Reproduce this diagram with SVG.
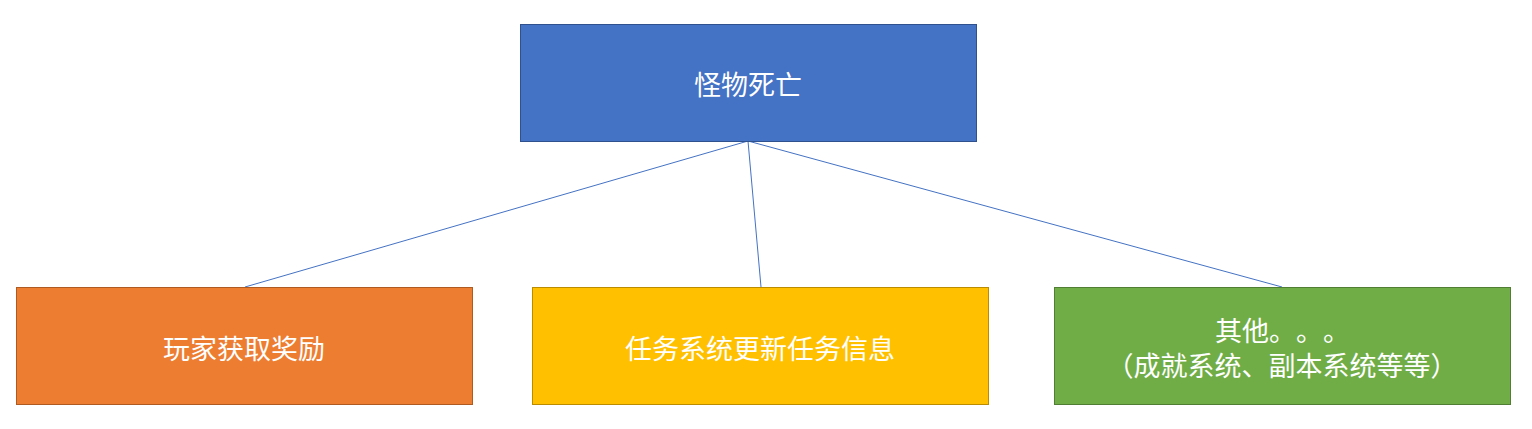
<svg xmlns="http://www.w3.org/2000/svg" width="1532" height="429" viewBox="0 0 1532 429">
<style>
.t{font-family:"Noto Sans CJK SC","Noto Sans",sans-serif;font-size:27px;fill:#fff;text-anchor:middle;dominant-baseline:central;text-spacing-trim:space-all}
.s{text-anchor:start}
.c{stroke:#4472C4;stroke-width:1;fill:none}
</style>
<rect width="1532" height="429" fill="#fff"/>
<g id="connectors">
<line class="c" x1="748" y1="141" x2="245" y2="287"/>
<line class="c" x1="748" y1="141" x2="761" y2="287"/>
<line class="c" x1="748" y1="141" x2="1282" y2="287"/>
</g>
<g id="n0">
<rect x="520.5" y="24.5" width="456" height="117" fill="#4472C4" stroke="#2F528F"/>
<text class="t" x="748" y="83">怪物死亡</text>
</g>
<g id="n1">
<rect x="16.5" y="287.5" width="456" height="117" fill="#ED7D31" stroke="#AE5A21"/>
<text class="t" x="244" y="347">玩家获取奖励</text>
</g>
<g id="n2">
<rect x="532.5" y="287.5" width="456" height="117" fill="#FFC000" stroke="#BC8C00"/>
<text class="t" x="760" y="347">任务系统更新任务信息</text>
</g>
<g id="n3">
<rect x="1054.5" y="287.5" width="456" height="117" fill="#70AD47" stroke="#507E32"/>
<text class="t s" y="329"><tspan x="1215">其他</tspan><tspan x="1269">。</tspan><tspan x="1296">。</tspan><tspan x="1323">。</tspan></text>
<text class="t" x="1282" y="364">（成就系统、副本系统等等）</text>
</g>
</svg>
